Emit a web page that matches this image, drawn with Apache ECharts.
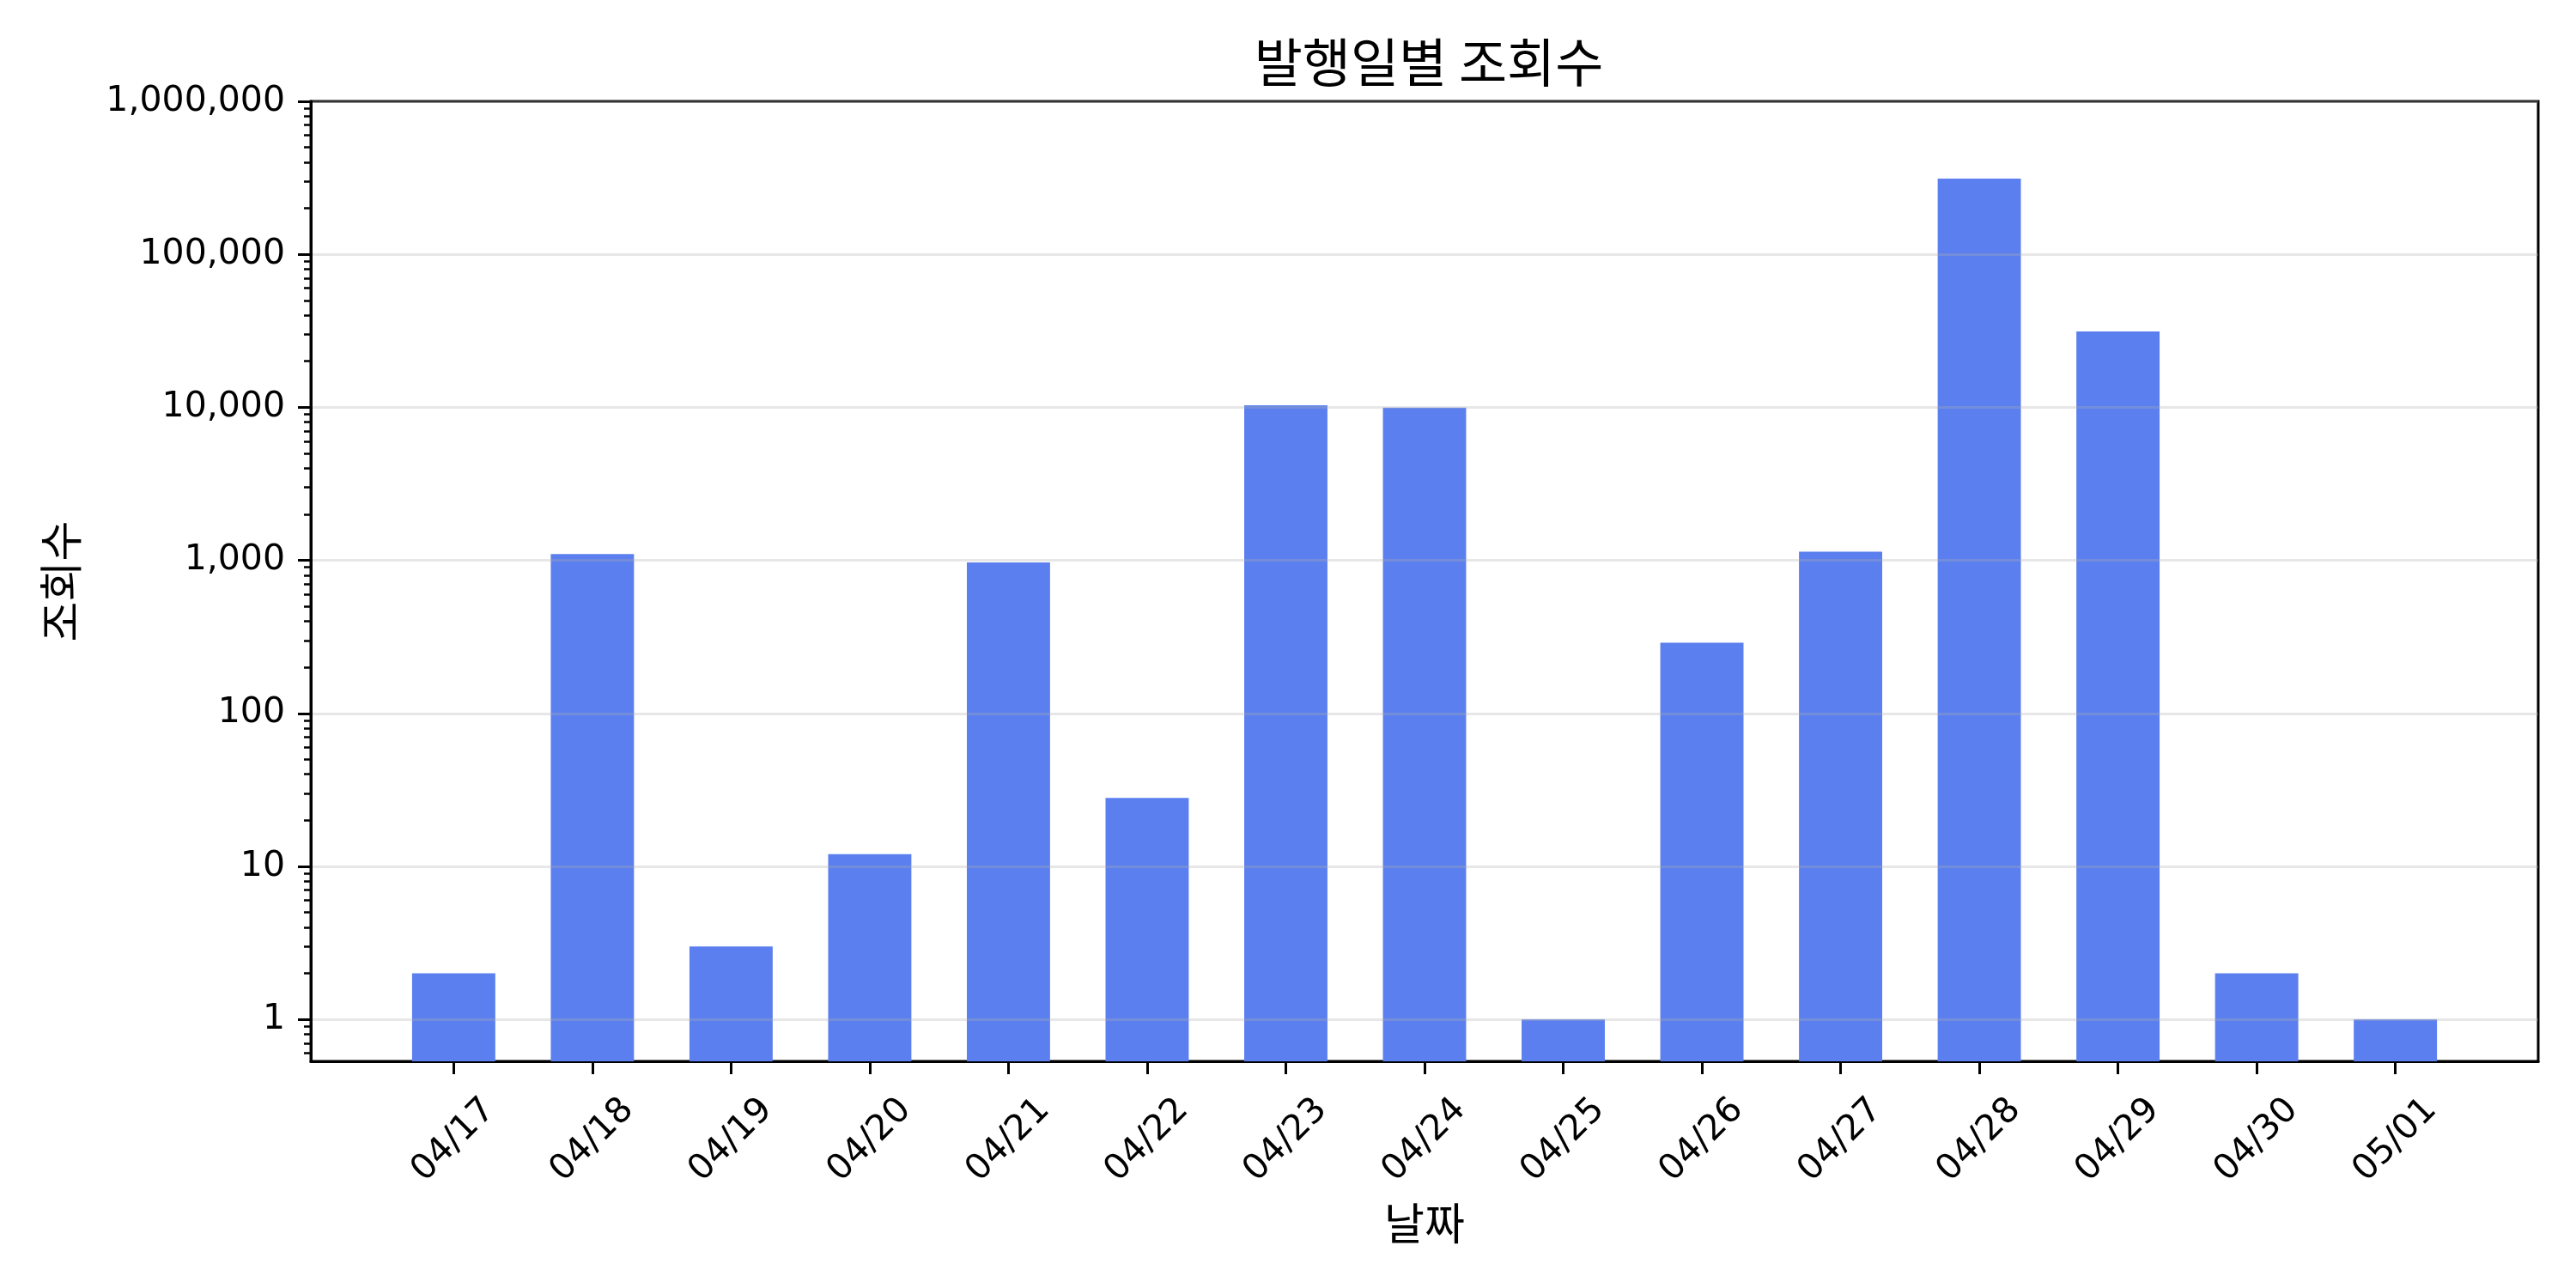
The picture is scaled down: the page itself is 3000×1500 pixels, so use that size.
<!DOCTYPE html>
<html>
<head>
<meta charset="utf-8">
<script src="https://cdn.jsdelivr.net/npm/echarts@6/dist/echarts.min.js"></script>
<style>
  html, body { margin: 0; padding: 0; background: #fff; }
  #container { width: 3000px; height: 1500px; }
</style>
</head>
<body>
<div id="container"></div>
<script>
// data
var dates = ['04/17', '04/18', '04/19', '04/20', '04/21', '04/22', '04/23', '04/24',
             '04/25', '04/26', '04/27', '04/28', '04/29', '04/30', '05/01'];
var views = [2, 1100, 3, 12, 970, 28, 10300, 9950, 1, 290, 1140, 313000, 31300, 2, 1];
var yTicks = [1, 10, 100, 1000, 10000, 100000, 1000000];

var FONT = '"Noto Sans CJK KR", "Noto Sans", sans-serif';
var NUMFONT = '"DejaVu Sans", "Noto Sans CJK KR", sans-serif';
var yMin = 0.532, yMax = 1000000;

// minor log ticks (2..9 of each decade)
var minorTicks = [];
for (var d = -1; d < 6; d++) {
    for (var m = 2; m <= 9; m++) {
        var v = m * Math.pow(10, d);
        if (v > yMin) minorTicks.push(+v.toPrecision(3));
    }
}
var idx = dates.map(function (s, i) { return i; });

var dom = document.getElementById('container');
var myChart = echarts.init(dom, null, { renderer: 'canvas' });

var option = {
    backgroundColor: '#fff',
    animation: false,
    title: {
        text: '발행일별 조회수',
        left: 1659,
        textAlign: 'center',
        top: 37,
        textStyle: { fontFamily: FONT, fontSize: 61, fontWeight: 'normal', color: '#000' }
    },
    grid: {
        left: 362, right: 44, top: 118, bottom: 264,
        show: true, borderColor: '#000', borderWidth: 3,
        outerBoundsMode: 'none'
    },
    xAxis: {
        type: 'value',
        min: -1.03,
        max: 15.03,
        name: '날짜',
        nameLocation: 'middle',
        nameGap: 163,
        nameTextStyle: { fontFamily: FONT, fontSize: 51, color: '#000' },
        axisLine: { show: true, onZero: false, lineStyle: { color: '#000', width: 3 } },
        axisTick: { show: true, customValues: idx, length: 15, lineStyle: { color: '#000', width: 3 } },
        axisLabel: {
            customValues: idx,
            rotate: 45,
            align: 'center',
            verticalAlign: 'middle',
            margin: 92,
            fontFamily: NUMFONT, fontSize: 41, color: '#000',
            formatter: function (v) { return dates[Math.round(v)] || ''; }
        },
        splitLine: { show: false }
    },
    yAxis: [{
        type: 'log',
        logBase: 10,
        min: yMin,
        max: yMax,
        startValue: yMin,
        z: 5,
        name: '조회수',
        nameLocation: 'middle',
        nameGap: 266,
        nameTextStyle: { fontFamily: FONT, fontSize: 51, color: '#000' },
        axisLine: { show: true, onZero: false, lineStyle: { color: '#000', width: 3 } },
        axisTick: { show: true, customValues: yTicks, length: 15, lineStyle: { color: '#000', width: 3 } },
        axisLabel: {
            customValues: yTicks,
            margin: 30,
            fontFamily: NUMFONT, fontSize: 41, color: '#000',
            formatter: function (v) { return Math.round(v).toLocaleString('en-US'); }
        },
        splitLine: { show: true, lineStyle: { color: 'rgba(176,176,176,0.3)', width: 3 } }
    }, {
        type: 'log',
        logBase: 10,
        min: yMin,
        max: yMax,
        position: 'left',
        axisLine: { show: false, onZero: false },
        axisTick: { show: true, customValues: minorTicks, length: 8, lineStyle: { color: '#000', width: 2.5 } },
        axisLabel: { show: false },
        splitLine: { show: false }
    }],
    series: [{
        name: '조회수',
        type: 'bar',
        yAxisIndex: 0,
        barWidth: '60%',
        itemStyle: { color: '#5B7FEE' },
        data: views.map(function (v, i) { return [i, v]; })
    }]
};

myChart.setOption(option);
</script>
</body>
</html>
